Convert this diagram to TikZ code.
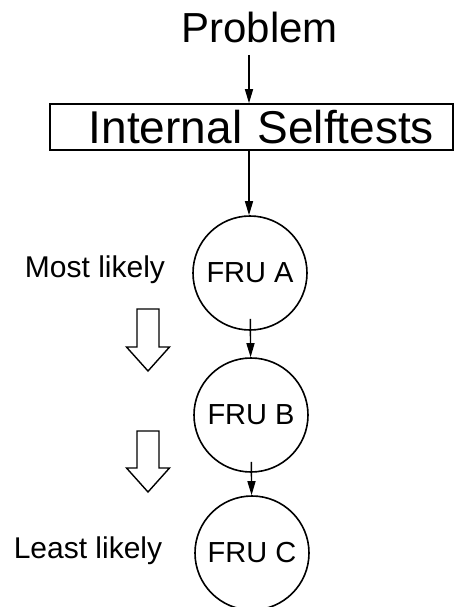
\documentclass[tikz,border=0pt]{standalone}
\usepackage{fontspec}
\setmainfont{Liberation Sans}
\usepackage{tikz}
\usetikzlibrary{arrows.meta,positioning}

\begin{document}
\begin{tikzpicture}[x=1pt,y=-1pt,
  fru/.style={draw,circle,line width=1.6pt,minimum size=114pt,inner sep=0pt,
              font=\fontsize{29}{29}\selectfont},
  side/.style={anchor=base,font=\fontsize{30}{30}\selectfont},
  arr/.style={-{Triangle[length=14pt,width=8pt]},line width=1.4pt},
  hollow/.style={draw,line width=1.4pt,line join=miter}
]
\useasboundingbox (0,0) rectangle (453,607);
\node[anchor=base,font=\fontsize{42}{42}\selectfont] (problem) at (259.5,43) {Problem};
\node[draw,line width=1.6pt,minimum height=46pt,inner xsep=19pt,inner ysep=0pt,
      text width=365pt,align=right,font=\fontsize{46}{46}\selectfont]
  (selftest) at (251.5,127) {Internal Selftests};
\node[fru] (fruA) at (250,273) {FRU A};
\node[fru] (fruB) at (251,415) {FRU B};
\node[fru] (fruC) at (252,553) {FRU C};
\node[side] (most) at (95,277) {Most likely};
\node[side] (least) at (88,558) {Least likely};

\draw[arr] (249,55) -- (selftest.north -| 249,0);
\draw[arr] (selftest.south -| 249,0) -- (fruA.north -| 249,0);
\draw[arr,shorten <=-12pt] (fruA) -- (fruB);
\draw[arr,shorten <=-11pt] (fruB) -- (fruC);

% big hollow arrows between the labels
\foreach \y/\s in {309/38,431/37} {
  \coordinate (likely) at (148,\y);
  \draw[hollow] (likely) ++(-11,0) -- ++(0,\s) -- ++(-10.5,0) -- ++(21.5,24)
    -- ++(21.5,-24) -- ++(-10.5,0) -- ++(0,-\s) -- cycle;
}
\end{tikzpicture}
\end{document}
